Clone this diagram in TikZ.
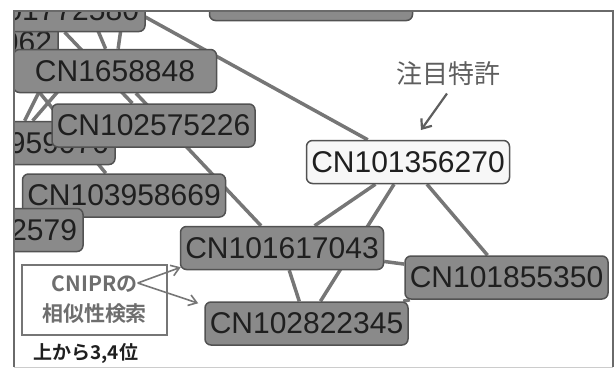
\documentclass[tikz,border=0pt]{standalone}
\usepackage{fontspec}
\setmainfont{Liberation Sans}
\newfontfamily\jpfont{Noto Sans CJK JP}[BoldFont={* Bold}]
\usetikzlibrary{arrows.meta,backgrounds}
\definecolor{nodegray}{HTML}{8A8A8A}
\definecolor{edgegray}{HTML}{767676}
\definecolor{framegray}{HTML}{6A6A6A}
\definecolor{textgray}{HTML}{5E5E5E}

\begin{document}
\begin{tikzpicture}[x=1pt,y=-1pt,
    pnode/.style={draw=black!68, line width=1.5pt, fill=nodegray, rounded corners=6pt,
      minimum width=203pt, minimum height=43pt, inner sep=0pt,
      font=\fontsize{30}{30}\selectfont, text=black!88},
    hnode/.style={pnode, fill=black!3},
    cutnode/.style={pnode, text width=191pt, align=right},
    link/.style={edgegray, line width=3.5pt},
    pointer/.style={textgray, line width=2.2pt, -{Straight Barb[length=8pt,width=13pt]}},
    hint/.style={textgray!85, line width=1.6pt, -{Straight Barb[length=8pt,width=11pt]}}]
    \useasboundingbox (0,0) rectangle (614,370);
    \begin{scope}
        \clip (14,11) rectangle (613,367);
        \node[cutnode] (n062) at (-43.5,42) {062};
        \node[cutnode] (n1772580) at (43.5,10) {01772580};
        \node[pnode] (ntop) at (311,-1) {};
        \node[pnode] (n1658848) at (115,71) {CN1658848};
        \node[cutnode] (n959070) at (13.5,143) {959070};
        \node[pnode] (n2575226) at (153.5,125.5) {CN102575226};
        \node[pnode] (n3958669) at (124,195.5) {CN103958669};
        \node[cutnode] (n2579) at (-18.5,230) {2579};
        \node[hnode] (n1356270) at (408,162) {CN101356270};
        \node[pnode] (n1617043) at (282,248) {CN101617043};
        \node[pnode] (n1855350) at (506.5,277.5) {CN101855350};
        \node[pnode] (n2822345) at (306.5,323.5) {CN102822345};
    \end{scope}
    \coordinate (cUL) at (100,-8);
    \coordinate (cA) at (85,0);
    \coordinate (cB) at (125,0);
    \coordinate (p1) at (55,60);
    \coordinate (p2) at (85,60);
    \coordinate (p3) at (-20,20);
    \begin{scope}[on background layer]
        \clip (14,11) rectangle (613,367);
        \draw[link] (n1356270) -- (cUL);
        \draw[link] (n1356270) -- (n1617043);
        \draw[link] (n1356270) -- (n2822345);
        \draw[link] (n1356270) -- (n1855350);
        \draw[link] (n1617043) -- (n1855350);
        \draw[link] (n1617043) -- (n2822345);
        \draw[link] (n2822345) -- (n1855350);
        \draw[link] (n1658848) -- (n1617043);
        \draw[link] (n1772580) -- (n2575226);
        \draw[link] (n1658848) -- (cA);
        \draw[link] (n1658848) -- (cB);
        \draw[link] (n959070) -- (p1);
        \draw[link] (n959070) -- (p2);
        \draw[link] (n3958669) -- (p3);
    \end{scope}
    \draw[framegray, line width=1.3pt] (14,367) -- (14,11) -- (613,11) -- (613,367);
    \draw[black!20, line width=1pt] (14,367) -- (613,367);
    \node[font=\jpfont\fontsize{26}{26}\selectfont, text=textgray] (focus) at (448,74) {注目特許};
    \coordinate (focustip) at (421,130);
    \draw[pointer] ([xshift=-1pt,yshift=-4pt]focus.south) -- (focustip);
    \node[draw=textgray!85, line width=1.5pt, fill=white, minimum width=145pt, minimum height=70pt,
      inner sep=0pt, align=center, text=textgray!90,
      font=\jpfont\bfseries\fontsize{21}{30}\selectfont] (cnipr) at (94.5,300) {CNIPRの\\相似性検索};
    \draw[hint] ([xshift=-30pt,yshift=17pt]cnipr.east) -- ([xshift=1pt,yshift=3pt]n1617043.south west);
    \draw[hint] ([xshift=-30pt,yshift=17pt]cnipr.east) -- ([xshift=-6pt,yshift=-2pt]n2822345.north west);
    \node[font=\jpfont\bfseries\fontsize{19}{19}\selectfont, text=black!88, anchor=west] (rank) at (30,353) {上から3,4位};
\end{tikzpicture}
\end{document}
